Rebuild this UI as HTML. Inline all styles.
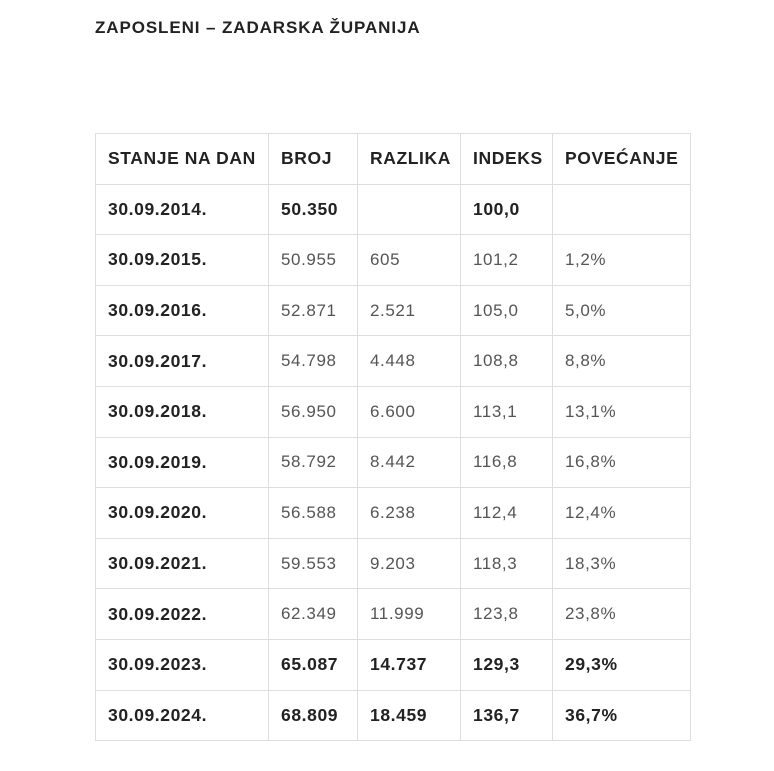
<!DOCTYPE html>
<html><head><meta charset="utf-8"><style>
body{margin:0;width:774px;height:771px;background:#fff;font-family:"Liberation Sans",sans-serif;position:relative;overflow:hidden}
h1{position:absolute;left:95px;top:18px;margin:0;font-size:17px;font-weight:bold;color:#222;letter-spacing:0.9px}
table{position:absolute;left:95px;top:133px;border-collapse:collapse;table-layout:fixed;width:595px}
td{border:1px solid #ddd;height:50.6px;padding:0 0 0 12px;font-size:17px;color:#555;letter-spacing:0.6px;vertical-align:middle;box-sizing:border-box}
td.b,tr.b td{font-weight:bold;color:#222;font-size:17.5px}
</style></head><body>
<h1>ZAPOSLENI – ZADARSKA ŽUPANIJA</h1>
<table>
<colgroup><col style="width:173px"><col style="width:89px"><col style="width:103px"><col style="width:92px"><col style="width:138px"></colgroup>
<tr class="b"><td>STANJE NA DAN</td><td>BROJ</td><td>RAZLIKA</td><td>INDEKS</td><td>POVEĆANJE</td></tr>
<tr class="b"><td>30.09.2014.</td><td>50.350</td><td></td><td>100,0</td><td></td></tr>
<tr><td class="b">30.09.2015.</td><td>50.955</td><td>605</td><td>101,2</td><td>1,2%</td></tr>
<tr><td class="b">30.09.2016.</td><td>52.871</td><td>2.521</td><td>105,0</td><td>5,0%</td></tr>
<tr><td class="b">30.09.2017.</td><td>54.798</td><td>4.448</td><td>108,8</td><td>8,8%</td></tr>
<tr><td class="b">30.09.2018.</td><td>56.950</td><td>6.600</td><td>113,1</td><td>13,1%</td></tr>
<tr><td class="b">30.09.2019.</td><td>58.792</td><td>8.442</td><td>116,8</td><td>16,8%</td></tr>
<tr><td class="b">30.09.2020.</td><td>56.588</td><td>6.238</td><td>112,4</td><td>12,4%</td></tr>
<tr><td class="b">30.09.2021.</td><td>59.553</td><td>9.203</td><td>118,3</td><td>18,3%</td></tr>
<tr><td class="b">30.09.2022.</td><td>62.349</td><td>11.999</td><td>123,8</td><td>23,8%</td></tr>
<tr class="b"><td>30.09.2023.</td><td>65.087</td><td>14.737</td><td>129,3</td><td>29,3%</td></tr>
<tr class="b"><td>30.09.2024.</td><td>68.809</td><td>18.459</td><td>136,7</td><td>36,7%</td></tr>
</table>
</body></html>
